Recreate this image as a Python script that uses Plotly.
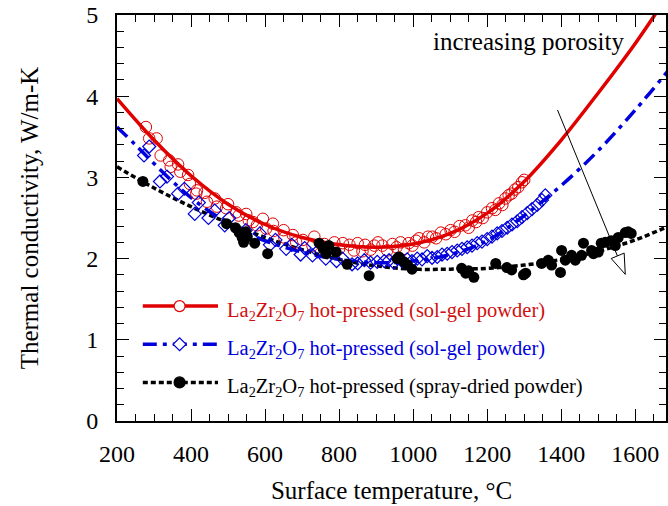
import plotly.graph_objects as go

# ---------------- data ----------------
# fitted curves
red_fit_x = [200, 300, 400, 500, 600, 700, 800, 900, 1000, 1100, 1200, 1300, 1400, 1500, 1600, 1660]
red_fit_y = [3.97, 3.46, 3.02, 2.67, 2.42, 2.26, 2.17, 2.14, 2.18, 2.31, 2.56, 2.95, 3.46, 4.04, 4.65, 5.05]

blue_fit_x = [200, 250, 300, 350, 400, 450, 500, 550, 600, 700, 800, 900, 1000, 1100, 1200, 1300, 1400, 1500, 1600, 1690]
blue_fit_y = [3.62, 3.40, 3.17, 2.95, 2.75, 2.58, 2.44, 2.32, 2.22, 2.08, 1.99, 1.95, 1.97, 2.05, 2.22, 2.53, 2.90, 3.33, 3.83, 4.32]

black_fit_x = [200, 300, 400, 500, 600, 700, 800, 900, 1000, 1100, 1200, 1300, 1400, 1500, 1600, 1690]
black_fit_y = [3.13, 2.87, 2.64, 2.44, 2.26, 2.11, 1.99, 1.91, 1.87, 1.87, 1.88, 1.92, 1.99, 2.09, 2.23, 2.40]

# measured points
red_x = [278, 287, 307, 318, 341, 345, 365, 371, 392, 397, 414, 416, 437, 443, 464, 470, 495, 500,
         522, 529, 549, 556, 567, 578, 594, 603, 621, 623, 650, 652, 675, 684, 702, 728, 733, 760,
         787, 800, 810, 828, 840, 850, 863, 870, 885, 895, 905, 917, 930, 944, 955, 966, 975, 988,
         998, 1008, 1016, 1030, 1040, 1052, 1062, 1075, 1088, 1101, 1112, 1125, 1141, 1150, 1160,
         1170, 1177, 1188, 1200, 1213, 1222, 1232, 1241, 1249, 1258, 1266, 1275, 1284, 1294, 1300]
red_y = [3.62, 3.48, 3.48, 3.27, 3.21, 3.13, 3.16, 3.07, 3.03, 2.92, 2.80, 2.84, 2.81, 2.70, 2.74, 2.64, 2.62, 2.67,
         2.57, 2.53, 2.55, 2.47, 2.45, 2.41, 2.49, 2.37, 2.43, 2.34, 2.35, 2.26, 2.29, 2.20, 2.23, 2.16, 2.27, 2.18,
         2.20, 2.12, 2.19, 2.17, 2.10, 2.19, 2.09, 2.17, 2.11, 2.16, 2.20, 2.16, 2.10, 2.18, 2.14, 2.20, 2.12, 2.19,
         2.16, 2.22, 2.25, 2.20, 2.27, 2.27, 2.25, 2.32, 2.30, 2.35, 2.33, 2.40, 2.41, 2.38, 2.47,
         2.45, 2.51, 2.50, 2.57, 2.62, 2.60, 2.68, 2.66, 2.74, 2.78, 2.80, 2.85, 2.88, 2.94, 2.97]

blue_x = [273, 287, 316, 335, 365, 382, 410, 421, 447, 464, 491, 503, 548, 586, 613, 628, 657, 672,
          696, 707, 728, 742, 764, 793, 809, 835, 850, 868, 885, 903, 922, 935, 948, 957, 970, 984,
          997, 1011, 1024, 1038, 1051, 1065, 1078, 1092, 1105, 1119, 1132, 1146, 1159, 1173, 1186,
          1200, 1213, 1227, 1240, 1254, 1267, 1281, 1294, 1308, 1321, 1335, 1348, 1357]
blue_y = [3.27, 3.38, 2.95, 3.01, 2.80, 2.86, 2.55, 2.69, 2.50, 2.59, 2.41, 2.50, 2.35, 2.31, 2.17, 2.23, 2.12, 2.17,
          2.05, 2.13, 2.04, 2.09, 2.00, 1.97, 2.00, 1.93, 1.94, 1.98, 1.95, 1.96, 1.97, 1.98, 1.95, 2.00, 1.97, 1.99,
          1.97, 2.00, 1.99, 2.03, 2.01, 2.02, 2.05, 2.06, 2.08, 2.10, 2.12, 2.14, 2.16, 2.19, 2.21,
          2.24, 2.27, 2.31, 2.34, 2.38, 2.42, 2.46, 2.51, 2.56, 2.61, 2.66, 2.72, 2.78]

black_x = [270, 496, 520, 530, 538, 542, 548, 552, 572, 607, 746, 757, 765, 772, 792, 822, 881,
           957, 962, 975, 985, 997, 1131, 1142, 1150, 1164, 1223, 1253, 1266, 1298, 1304, 1347, 1365,
           1374, 1398, 1401, 1411, 1428, 1438, 1455, 1460, 1482, 1487, 1500, 1508, 1519, 1535, 1546,
           1554, 1573, 1581, 1589]
black_y = [2.95, 2.43, 2.38, 2.32, 2.26, 2.20, 2.33, 2.27, 2.19, 2.06, 2.19, 2.12, 2.06, 2.16, 2.08, 1.93, 1.79,
           2.00, 2.02, 1.96, 1.92, 1.87, 1.88, 1.82, 1.85, 1.77, 1.94, 1.89, 1.86, 1.80, 1.82, 1.94, 1.98,
           1.92, 1.83, 2.10, 1.98, 2.04, 1.98, 2.04, 2.19, 2.10, 2.06, 2.08, 2.19, 2.20, 2.22, 2.16,
           2.26, 2.32, 2.33, 2.31]

series_names = [
    "La<sub>2</sub>Zr<sub>2</sub>O<sub>7</sub> hot-pressed (sol-gel powder)",
    "La<sub>2</sub>Zr<sub>2</sub>O<sub>7</sub> hot-pressed (sol-gel powder)",
    "La<sub>2</sub>Zr<sub>2</sub>O<sub>7</sub> hot-pressed (spray-dried powder)",
]

x_ticks = [200, 400, 600, 800, 1000, 1200, 1400, 1600]
y_ticks = [0, 1, 2, 3, 4, 5]

# ---------------- styles ----------------
RED = "#e00000"
BLUE = "#0000dd"
BLACK = "#000000"
FONT = "Liberation Serif"
BLUE_DASH = "14px,6px,4px,6px"
BLACK_DASH = "5px,3px"

fig = go.Figure()

# curves
fig.add_trace(go.Scatter(x=red_fit_x, y=red_fit_y, mode="lines", line=dict(color=RED, width=3.5, shape="spline"),
                         showlegend=False))
fig.add_trace(go.Scatter(x=blue_fit_x, y=blue_fit_y, mode="lines",
                         line=dict(color=BLUE, width=3.5, dash=BLUE_DASH, shape="spline"), showlegend=False))
fig.add_trace(go.Scatter(x=black_fit_x, y=black_fit_y, mode="lines",
                         line=dict(color=BLACK, width=3.5, dash=BLACK_DASH, shape="spline"), showlegend=False))

# points
fig.add_trace(go.Scatter(x=red_x, y=red_y, mode="markers",
                         marker=dict(symbol="circle-open", size=11.5, color=RED, line=dict(width=1)),
                         showlegend=False))
fig.add_trace(go.Scatter(x=blue_x, y=blue_y, mode="markers",
                         marker=dict(symbol="diamond-open", size=10, color=BLUE, line=dict(width=1.2)),
                         showlegend=False))
fig.add_trace(go.Scatter(x=black_x, y=black_y, mode="markers",
                         marker=dict(symbol="circle", size=11, color=BLACK),
                         showlegend=False))

# ---------------- manual legend (paper-like overlay axis) ----------------
leg_rows = [0.283, 0.189, 0.095]   # fraction of plot height
leg_x0, leg_xm, leg_x1, leg_xt = 0.047, 0.114, 0.184, 0.196
leg_styles = [
    (RED, "solid", "circle", "white"),
    (BLUE, BLUE_DASH, "diamond", "white"),
    (BLACK, BLACK_DASH, "circle", BLACK),
]
for (col, dash, sym, fillc), yy, name in zip(leg_styles, leg_rows, series_names):
    fig.add_trace(go.Scatter(x=[leg_x0, leg_x1], y=[yy, yy], mode="lines",
                             line=dict(color=col, width=3.5, dash=dash),
                             xaxis="x2", yaxis="y2", showlegend=False, hoverinfo="skip"))
    fig.add_trace(go.Scatter(x=[leg_xm], y=[yy], mode="markers",
                             marker=dict(symbol=sym, size=11 if sym == "circle" else 10, color=fillc,
                                         line=dict(color=col, width=1.2)),
                             xaxis="x2", yaxis="y2", showlegend=False, hoverinfo="skip"))
    fig.add_annotation(x=leg_xt, y=yy, xref="x2", yref="y2", text=name, showarrow=False,
                       xanchor="left", yanchor="middle", yshift=-5,
                       font=dict(family=FONT, size=20.5, color=("#d01010" if col == RED else col)))

# ---------------- arrow "increasing porosity" ----------------
fig.add_shape(type="line", x0=1390, y0=3.83, x1=1552, y1=2.03, xref="x", yref="y",
              line=dict(color="black", width=1))
fig.add_shape(type="path", path="M 1573,1.806 L 1570,2.068 L 1535,2.001 Z", xref="x", yref="y",
              line=dict(color="black", width=1), fillcolor="white")
fig.add_annotation(x=1312, y=4.67, xref="x", yref="y", text="increasing porosity", showarrow=False,
                   font=dict(family=FONT, size=25, color="black"))

axis_common = dict(showgrid=False, zeroline=False, showline=True, linecolor="black", linewidth=2,
                   mirror="allticks", ticks="inside", tickcolor="black", tickwidth=1, ticklen=12,
                   tickfont=dict(family=FONT, size=24, color="black"))

fig.update_layout(
    width=668, height=506,
    margin=dict(l=117, r=0, t=15, b=85),
    paper_bgcolor="white", plot_bgcolor="white",
    showlegend=False,
    xaxis=dict(range=[200, 1683], tickvals=x_ticks, ticktext=[str(v) for v in x_ticks],
               minor=dict(ticks="inside", ticklen=7, dtick=50, tick0=200, tickcolor="black", tickwidth=1),
               title=dict(text="Surface temperature, °C", font=dict(family=FONT, size=25, color="black"),
                          standoff=16),
               ticklabelstandoff=10, **axis_common),
    yaxis=dict(range=[0, 5], tickvals=y_ticks, ticktext=[str(v) for v in y_ticks],
               minor=dict(ticks="inside", ticklen=7, dtick=0.2, tick0=0, tickcolor="black", tickwidth=1),
               title=dict(text="Thermal conductivity, W/m-K", font=dict(family=FONT, size=25, color="black"),
                          standoff=40),
               ticklabelstandoff=12, **axis_common),
    xaxis2=dict(range=[0, 1], overlaying="x", visible=False, fixedrange=True),
    yaxis2=dict(range=[0, 1], overlaying="y", visible=False, fixedrange=True),
)

fig.write_html("out.html")
